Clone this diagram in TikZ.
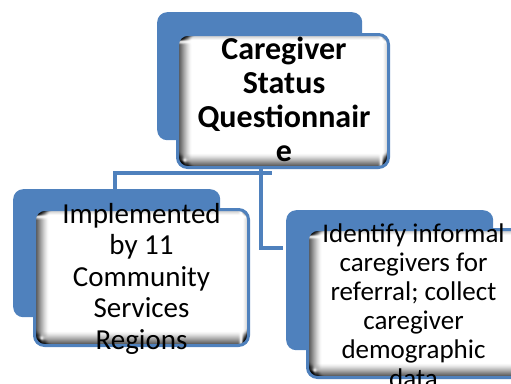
\documentclass[tikz,border=0pt]{standalone}
\usepackage{fontspec}
\setmainfont{Carlito}
\definecolor{accent}{HTML}{4F81BD}
\begin{document}
\begin{tikzpicture}[x=1pt,y=-1pt,
  backcard/.style={fill=accent, rounded corners=10pt, inner sep=0pt, anchor=north west},
  frontcard/.style={fill=white, draw=accent, line width=3pt, rounded corners=10pt,
    inner sep=0pt, anchor=north west,
    path picture={
      % inner shadow along the left edge
      \foreach \i in {0,...,13}{
        \fill[black, opacity={0.9*(1-\i/14)^1.5}]
          ([xshift=\i pt]path picture bounding box.north west)
          rectangle ([xshift=\i pt+1pt]path picture bounding box.south west);
      }
      % inner shadow along the bottom edge
      \foreach \i in {0,...,13}{
        \fill[black, opacity={0.9*(1-\i/14)^1.5}]
          ([yshift=\i pt]path picture bounding box.south west)
          rectangle ([yshift=\i pt+1pt]path picture bounding box.south east);
      }
      % faint shade along the top and right edges
      \foreach \i in {0,...,4}{
        \fill[black, opacity={0.25*(1-\i/5)}]
          ([yshift=-\i pt]path picture bounding box.north west)
          rectangle ([yshift=-\i pt-1pt]path picture bounding box.north east);
        \fill[black, opacity={0.2*(1-\i/5)}]
          ([xshift=-\i pt]path picture bounding box.north east)
          rectangle ([xshift=-\i pt-1pt]path picture bounding box.south east);
      }
    }},
  cardtext/.style={align=center, inner sep=0pt, text=black},
  conn/.style={draw=accent, line width=4.5pt}
]
\clip (0,0) rectangle (511,383);

% junction points of the connector lines
\coordinate (hL) at (115,173);
\coordinate (hR) at (272,173);
\coordinate (vT) at (261,167);
\coordinate (rj) at (283,248);

% back cards
\node[backcard, minimum width=205pt, minimum height=128pt] (topbk) at (157,12) {};
\node[backcard, minimum width=207pt, minimum height=128pt] (lftbk) at (13,189) {};
\node[backcard, minimum width=207pt, minimum height=140pt] (rgtbk) at (286,210) {};

% connectors
\draw[conn] (hL |- lftbk.north) -- (hL) -- (hR);
\draw[conn] (vT) |- (rj);

% front cards
\node[frontcard, minimum width=211pt, minimum height=133pt] (top) at (176,33) {};
\node[frontcard, minimum width=214pt, minimum height=136pt] (lft) at (33,208) {};
\node[frontcard, minimum width=214pt, minimum height=148pt] (rgt) at (306,228) {};

% card texts
\node[cardtext, font=\bfseries\fontsize{32}{34}\selectfont] (toptxt) at ([xshift=1pt,yshift=2pt]top.center)
  {Caregiver\\Status\\Questionnair\\e};
\node[cardtext, font=\fontsize{29}{31.5}\selectfont] (lfttxt) at ([yshift=-1pt]lft.center)
  {Implemented\\by 11\\Community\\Services\\Regions};
\node[cardtext, font=\fontsize{27}{29}\selectfont] (rgttxt) at ([xshift=-1pt,yshift=-2pt]rgt.center)
  {Identify informal\\caregivers for\\referral; collect\\caregiver\\demographic\\data};
\end{tikzpicture}
\end{document}
